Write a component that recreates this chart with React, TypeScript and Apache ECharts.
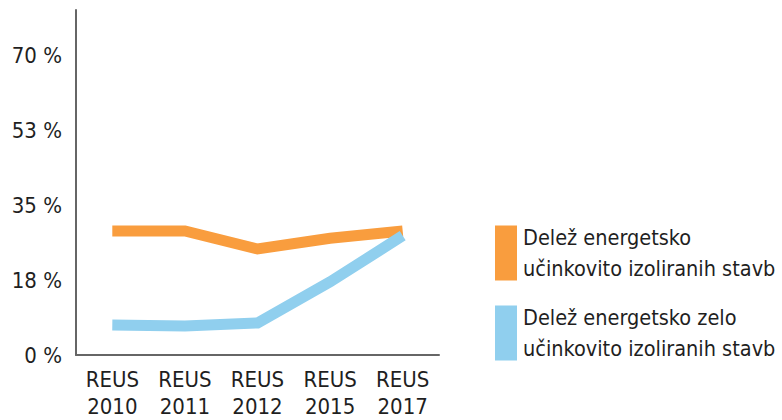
import React, { useEffect, useRef } from "react";
import * as echarts from "echarts";

const categories = ["REUS\n2010", "REUS\n2011", "REUS\n2012", "REUS\n2015", "REUS\n2017"];
const seriesNames = [
  "Delež energetsko\nučinkovito izoliranih stavb",
  "Delež energetsko zelo\nučinkovito izoliranih stavb",
];
const orangeValues = [29.0, 29.0, 24.8, 27.3, 29.0];
const blueValues = [7.0, 6.8, 7.5, 17.1, 27.9];
const yTickStep = 17.5;
const yMax = 80.7;

const FONT = "'Liberation Sans Narrow', 'DejaVu Sans Condensed', 'Liberation Sans', sans-serif";
const ORANGE = "#F99D3E";
const BLUE = "#90CFEE";
const TEXT = "#1f1f1f";

export default function App() {
  const ref = useRef<HTMLDivElement>(null);
  useEffect(() => {
    document.body.style.margin = "0";
    const chart = echarts.init(ref.current!, null, { renderer: "svg" });
    chart.setOption({
      animation: false,
      backgroundColor: "#ffffff",
      textStyle: { fontFamily: FONT },
      grid: { left: 76, top: 10, right: 343, bottom: 61 },
      legend: {
        orient: "vertical",
        left: 490,
        top: 217,
        icon: "rect",
        itemWidth: 22,
        itemHeight: 55,
        itemGap: 18,
        selectedMode: false,
        data: seriesNames,
        textStyle: {
          fontFamily: FONT,
          fontSize: 21.5,
          color: TEXT,
          lineHeight: 31,
          padding: [0, 0, 0, 1],
        },
      },
      xAxis: {
        type: "category",
        data: categories,
        boundaryGap: true,
        axisLine: { show: true, lineStyle: { color: "#666666", width: 2 } },
        axisTick: { show: false },
        axisLabel: {
          fontFamily: FONT,
          fontSize: 22,
          color: TEXT,
          lineHeight: 27,
          margin: 11,
          interval: 0,
        },
        splitLine: { show: false },
      },
      yAxis: {
        type: "value",
        min: 0,
        max: yMax,
        interval: yTickStep,
        axisLine: { show: true, lineStyle: { color: "#666666", width: 2 } },
        axisTick: { show: false },
        splitLine: { show: false },
        axisLabel: {
          fontFamily: FONT,
          fontSize: 22,
          color: TEXT,
          margin: 14,
          formatter: (v: number) => {
            const r = v / yTickStep;
            if (Math.abs(r - Math.round(r)) > 0.001) return "";
            return Math.round(v) + " %";
          },
        },
      },
      series: [
        {
          name: seriesNames[0],
          type: "line",
          data: orangeValues,
          showSymbol: false,
          itemStyle: { color: ORANGE },
          lineStyle: { color: ORANGE, width: 11, cap: "butt", join: "miter" },
        },
        {
          name: seriesNames[1],
          type: "line",
          data: blueValues,
          showSymbol: false,
          itemStyle: { color: BLUE },
          lineStyle: { color: BLUE, width: 11, cap: "butt", join: "miter" },
        },
      ],
    });
    return () => chart.dispose();
  }, []);
  return (
    <div
      ref={ref}
      style={{ position: "absolute", left: 0, top: 0, width: 782, height: 420 }}
    />
  );
}
